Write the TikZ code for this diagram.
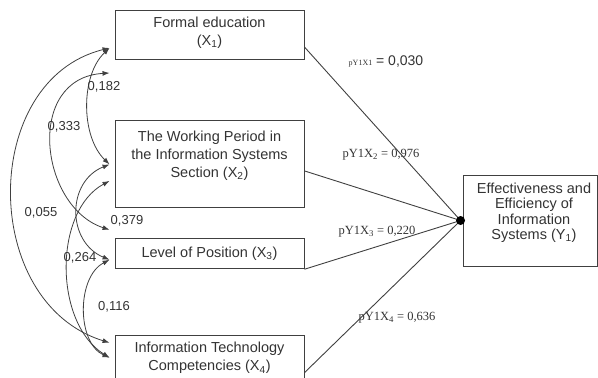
\documentclass[tikz,border=0pt]{standalone}
\usepackage{fontspec}
\setmainfont{Liberation Sans}
\newfontfamily\pfont{Liberation Serif}
\usetikzlibrary{arrows.meta,positioning}

\tikzset{
  box/.style={draw=black!75, line width=0.9pt, minimum width=189pt, inner sep=0pt},
  txt/.style={align=center, text=black!80, inner sep=0pt, font=\fontsize{14.5}{18}\selectfont},
  num/.style={text=black!80, inner sep=0pt, font=\fontsize{13}{13}\selectfont},
  coef/.style={text=black!80, inner sep=0pt, font=\pfont\fontsize{12.5}{12.5}\selectfont},
  cov/.style={draw=black!75, line width=0.8pt, {Latex[length=7pt,width=5pt]}-{Latex[length=7pt,width=5pt]}},
  beam/.style={draw=black!75, line width=0.9pt}
}

\begin{document}
\begin{tikzpicture}[x=1pt,y=-1pt]
  \useasboundingbox (0,0) rectangle (598,378);
  \clip (0,0) rectangle (598,378);

  % boxes
  \node[box, minimum height=49pt] (x1) at (209.5,34.5) {};
  \node[box, minimum height=87pt, below=61pt of x1] (x2) {};
  \node[box, minimum height=30pt, below=30pt of x2] (x3) {};
  \node[box, minimum height=60pt, below=66pt of x3] (x4) {};
  \node[box, minimum width=134pt, minimum height=91pt] (y1) at (530,220.5) {};

  \node[txt] (t1) at ([yshift=1.5pt]x1.center) {Formal education\\(X\textsubscript{1})};
  \node[txt] (t2) at ([yshift=8.5pt]x2.center) {The Working Period in\\the Information Systems\\Section (X\textsubscript{2})};
  \node[txt] (t3) at (x3.center) {Level of Position (X\textsubscript{3})};
  \node[txt] (t4) at ([yshift=7.5pt]x4.center) {Information Technology\\Competencies (X\textsubscript{4})};
  \node[txt, font=\fontsize{14.5}{15.5}\selectfont] (ty) at ([shift={(4pt,8pt)}]y1.center)
    {Effectiveness and\\Efficiency of\\Information\\Systems (Y\textsubscript{1})};

  % ends of the curved arrows
  \coordinate (e1a) at ([shift={(-5pt,-13.5pt)}]x1.west);
  \coordinate (e1b) at ([shift={(-5pt,-38.5pt)}]x1.west);
  \coordinate (e2a) at ([shift={(-5pt,0pt)}]x2.west);
  \coordinate (e2b) at ([shift={(-5pt,-16.5pt)}]x2.west);
  \coordinate (e3a) at ([shift={(-5pt,24pt)}]x3.west);
  \coordinate (e3b) at ([shift={(-5pt,-6pt)}]x3.west);
  \coordinate (e4a) at ([shift={(-5pt,23pt)}]x4.west);
  \coordinate (e4b) at ([shift={(-5pt,8pt)}]x4.west);

  \draw[cov] (e1a) .. controls +(-29,27) and +(-29,-28) .. (e2a);
  \draw[cov] (e1b) .. controls +(-85,5) and +(-70,-23) .. (e3a);
  \draw[cov] (e1a) .. controls +(-130,32) and +(-130,-40) .. (e4a);
  \draw[cov] (e2a) .. controls +(-43,17) and +(-43,-18) .. (e3b);
  \draw[cov] (e2b) .. controls +(-56,30) and +(-56,-35) .. (e4b);
  \draw[cov] (e3b) .. controls +(-33,17) and +(-33,-15) .. (e4b);

  \node[num] (n1) at (104,87) {0,182};
  \node[num] (n2) at (64,127) {0,333};
  \node[num] (n3) at (41,213) {0,055};
  \node[num] (n4) at (127,221) {0,379};
  \node[num] (n5) at (80,258) {0,264};
  \node[num] (n6) at (114,307) {0,116};

  % paths to Y
  \coordinate (yd) at ([xshift=-2pt]y1.west);
  \draw[beam] ([yshift=-12.5pt]x1.east) -- (yd);
  \draw[beam] ([yshift=-6.5pt]x2.east) -- (yd);
  \draw[beam] (x3.south east) -- (yd);
  \draw[beam] ([yshift=-7pt]x4.east) -- (yd);
  \fill[black] (yd) circle (4.5);

  \node[num, font=\fontsize{14}{14}\selectfont] (p1) at (386,62) {{\pfont\fontsize{8}{8}\selectfont pY1X1} = 0,030};
  \node[coef] (p2) at (381,155) {pY1X\textsubscript{2} = 0,976};
  \node[coef] (p3) at (377,232) {pY1X\textsubscript{3} = 0,220};
  \node[coef] (p4) at (397,318) {pY1X\textsubscript{4} = 0,636};
\end{tikzpicture}
\end{document}
